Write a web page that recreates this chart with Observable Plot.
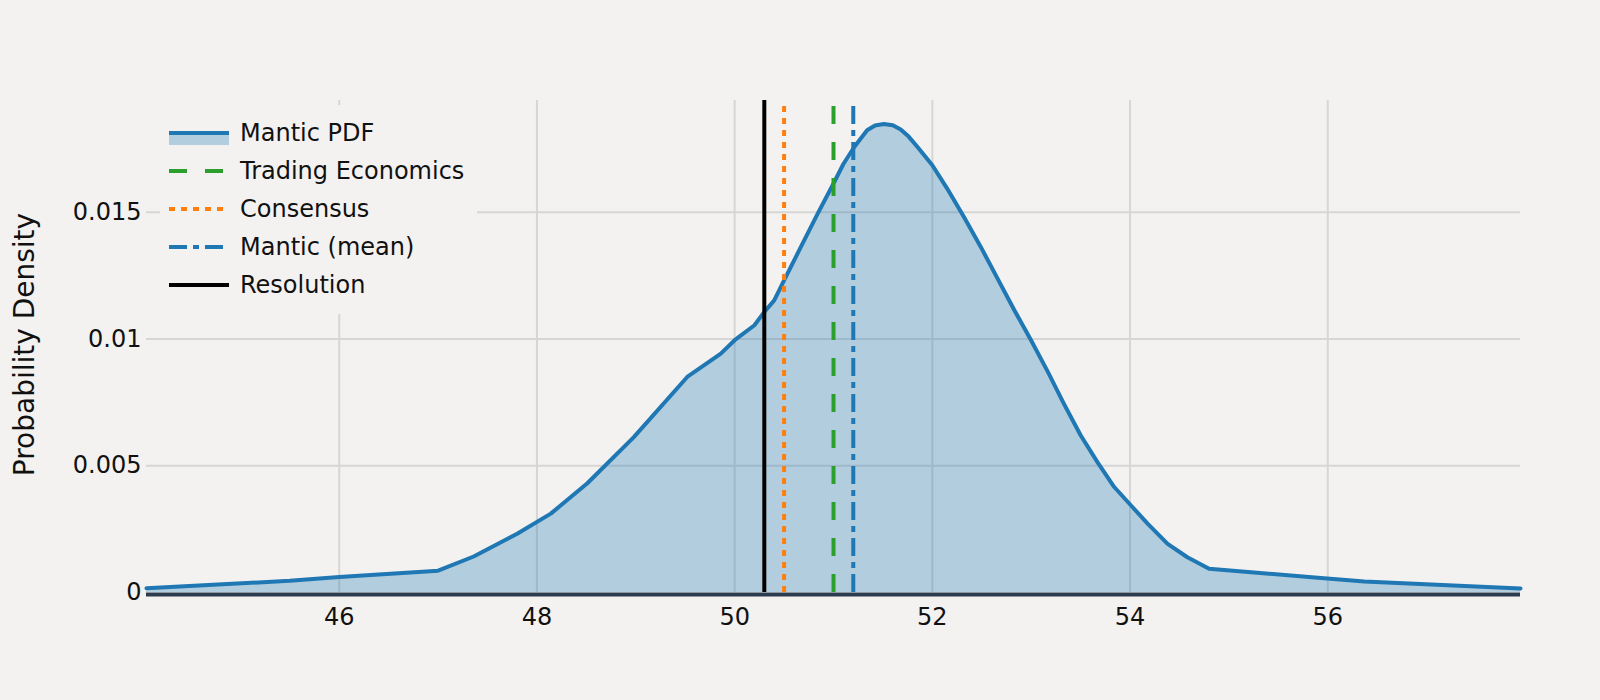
<!DOCTYPE html>
<html>
<head>
<meta charset="utf-8">
<script src="https://cdn.jsdelivr.net/npm/d3@7"></script>
<script src="https://cdn.jsdelivr.net/npm/@observablehq/plot@0.6"></script>
<style>
  html, body { margin: 0; padding: 0; background: #f3f2f0; }
  #wrap { position: relative; width: 1600px; height: 700px; font-family: "DejaVu Sans", Verdana, sans-serif; }
  #legend { position: absolute; left: 160px; top: 105px; width: 317px; height: 209px; background: #f3f2f0; }
  .row { position: absolute; left: 0; height: 38px; display: flex; align-items: center; font-size: 24px; color: #111; }
  .row svg { margin-left: 9px; margin-right: 11px; }
</style>
</head>
<body>
<div id="wrap"><div id="legend"></div></div>
<script>
// ---- data ----
const xTicks = [46, 48, 50, 52, 54, 56];
const yTicks = [0, 0.005, 0.01, 0.015];
const pdfX = [44.05, 45.5, 46.0, 47.0, 47.36, 47.8, 48.14, 48.51, 48.98, 49.52, 49.86, 50.0, 50.2, 50.3, 50.4, 50.5, 50.67, 50.84, 51.0, 51.1, 51.21, 51.34, 51.42, 51.51, 51.6, 51.68, 51.76, 51.85, 52.0, 52.15, 52.32, 52.49, 52.66, 52.83, 53.0, 53.17, 53.33, 53.5, 53.67, 53.84, 54.01, 54.18, 54.38, 54.58, 54.8, 55.9, 56.37, 57.95];
const pdfY = [0.00017, 0.00046, 0.00061, 0.00086, 0.00142, 0.00232, 0.00311, 0.00431, 0.00613, 0.00850, 0.00942, 0.00995, 0.01054, 0.01106, 0.01152, 0.01231, 0.01363, 0.01494, 0.01613, 0.01690, 0.01757, 0.01823, 0.01842, 0.01848, 0.01843, 0.01826, 0.01798, 0.01757, 0.01685, 0.01593, 0.01481, 0.01363, 0.01238, 0.01113, 0.00994, 0.00869, 0.00745, 0.00620, 0.00514, 0.00416, 0.00343, 0.00271, 0.00192, 0.00139, 0.00094, 0.00058, 0.00043, 0.00016];
const refNames = ["Trading Economics", "Consensus", "Mantic (mean)", "Resolution"];
const refValues = [51.0, 50.5, 51.2, 50.3];
const pdfName = "Mantic PDF";
const yLabel = "Probability Density";

// ---- styles ----
const refStyle = {
  "Trading Economics": {stroke: "#2ca02c", dash: "18,18"},
  "Consensus": {stroke: "#ff7f0e", dash: "6,6"},
  "Mantic (mean)": {stroke: "#1f77b4", dash: "18,6,6,6"},
  "Resolution": {stroke: "#000000", dash: null}
};

const pdf = pdfX.map((x, i) => ({x, y: pdfY[i]}));
const refs = refNames.map((name, i) => ({name, value: refValues[i]}));
const yMax = d3.max(pdfY) * 1.05;

const marks = [
  Plot.gridX(xTicks, {stroke: "#d6d6d6", strokeOpacity: 1, strokeWidth: 2}),
  Plot.gridY(yTicks.filter(d => d > 0), {stroke: "#d6d6d6", strokeOpacity: 1, strokeWidth: 2}),
  Plot.areaY(pdf, {x: "x", y: "y", fill: "#1f77b4", fillOpacity: 0.3}),
  Plot.lineY(pdf, {x: "x", y: "y", stroke: "#1f77b4", strokeWidth: 4, strokeLinejoin: "round"})
];
for (const r of refs) {
  const s = refStyle[r.name];
  marks.push(Plot.ruleX([r], {x: "value", y1: 0, y2: yMax, stroke: s.stroke, strokeWidth: 4, strokeDasharray: s.dash || undefined}));
}
marks.push(
  Plot.ruleY([0], {stroke: "#2b3c4e", strokeWidth: 4, dy: 2}),
  Plot.axisX(xTicks, {tickSize: 0, tickPadding: 15, fontSize: 24, label: null}),
  Plot.axisY(yTicks, {tickSize: 0, tickPadding: 5, fontSize: 24, label: null, tickFormat: d => String(d)}),
  Plot.text([yLabel], {text: d => d, frameAnchor: "left", textAnchor: "middle", lineAnchor: "middle", rotate: -90, dx: -121, dy: -2, fontSize: 28, fill: "#111"})
);

const chart = Plot.plot({
  width: 1600,
  height: 700,
  marginLeft: 146,
  marginRight: 80,
  marginTop: 100,
  marginBottom: 108,
  x: {domain: [44.05, 57.95]},
  y: {domain: [0, yMax]},
  style: {background: "#f3f2f0", fontFamily: "DejaVu Sans, Verdana, sans-serif", fontSize: "24px", color: "#111"},
  marks
});
const wrap = document.getElementById("wrap");
wrap.insertBefore(chart, wrap.firstChild);

// ---- legend ----
const legend = document.getElementById("legend");
const items = [{name: pdfName, pdf: true}, ...refNames.map(n => ({name: n}))];
items.forEach((it, i) => {
  const row = document.createElement("div");
  row.className = "row";
  row.style.top = (9 + i * 38) + "px";
  let sym;
  if (it.pdf) {
    sym = `<svg width="60" height="38"><rect x="0" y="21" width="60" height="10" fill="#1f77b4" fill-opacity="0.3"/><line x1="0" x2="60" y1="19" y2="19" stroke="#1f77b4" stroke-width="4"/></svg>`;
  } else {
    const s = refStyle[it.name];
    sym = `<svg width="60" height="38"><line x1="0" x2="60" y1="19" y2="19" stroke="${s.stroke}" stroke-width="4" ${s.dash ? `stroke-dasharray="${s.dash}"` : ""}/></svg>`;
  }
  row.innerHTML = sym + `<span>${it.name}</span>`;
  legend.appendChild(row);
});
</script>
</body>
</html>
